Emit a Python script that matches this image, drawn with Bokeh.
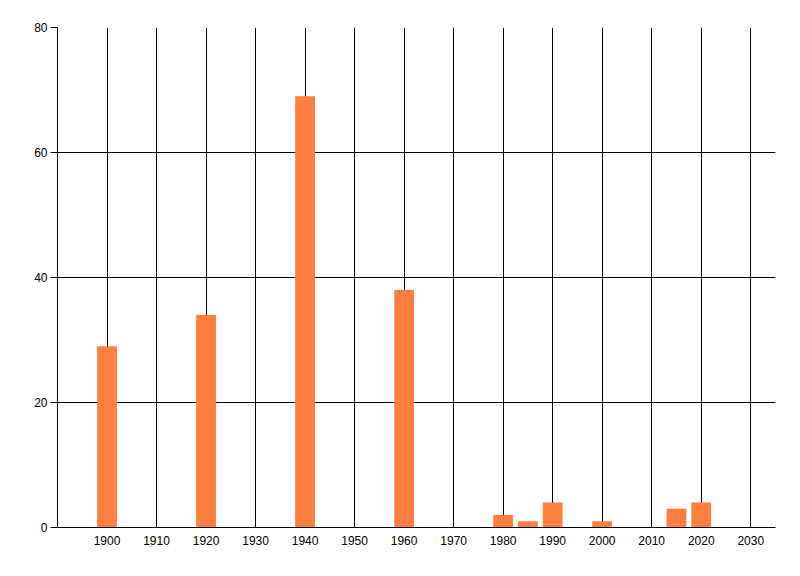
from bokeh.plotting import figure
from bokeh.models import ColumnDataSource, FixedTicker, Range1d
from bokeh.embed import file_html
from bokeh.resources import INLINE

years = [1900, 1920, 1940, 1960, 1980, 1985, 1990, 2000, 2015, 2020]
counts = [29, 34, 69, 38, 2, 1, 4, 1, 3, 4]
x_ticks = [1900, 1910, 1920, 1930, 1940, 1950, 1960, 1970, 1980, 1990, 2000, 2010, 2020, 2030]
y_ticks = [0, 20, 40, 60, 80]

src = ColumnDataSource(dict(x=years, top=counts))

p = figure(output_backend="svg", toolbar_location=None,
           frame_width=718, frame_height=500,
           min_border_left=57, min_border_top=27, min_border_right=17, min_border_bottom=41,
           x_range=Range1d(1890, 2035), y_range=Range1d(0, 80))

p.vbar(x="x", top="top", width=4, bottom=0, source=src,
       fill_color="#FF7F40", line_color=None)

p.outline_line_color = None
p.background_fill_color = "white"
p.border_fill_color = "white"

p.xaxis.ticker = FixedTicker(ticks=x_ticks)
p.yaxis.ticker = FixedTicker(ticks=y_ticks)
p.xgrid.ticker = FixedTicker(ticks=x_ticks)
p.ygrid.ticker = FixedTicker(ticks=y_ticks)

for g in (p.xgrid, p.ygrid):
    g.grid_line_color = "black"
    g.grid_line_width = 1
    g.grid_line_alpha = 1

for ax in (p.xaxis, p.yaxis):
    ax.axis_line_color = "black"
    ax.minor_tick_line_color = None
    ax.major_label_text_font = "Liberation Sans"
    ax.major_label_text_font_size = "12px"
    ax.major_label_text_color = "black"

p.xaxis.major_tick_out = 0
p.xaxis.major_tick_in = 0
p.xaxis.major_label_standoff = 8
p.yaxis.major_tick_out = 7
p.yaxis.major_tick_in = 0
p.yaxis.major_tick_line_color = "black"
p.yaxis.major_label_standoff = 3

open("out.html", "w").write(file_html(p, INLINE))
